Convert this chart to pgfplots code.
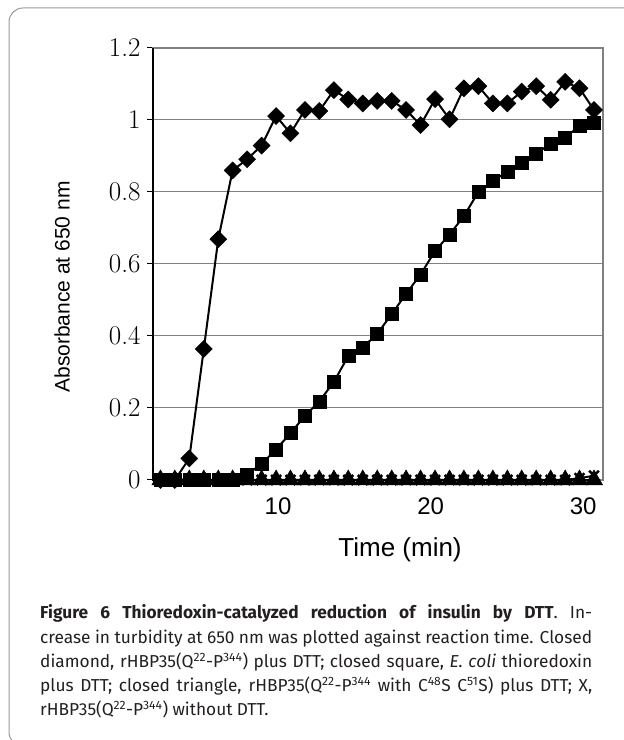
\documentclass[border=0pt]{standalone}
\usepackage{pgfplots}
\pgfplotsset{compat=1.18}
\usepackage{fontspec}
\newfontfamily\arial{Liberation Sans}
\newfontfamily\capfont{Fira Sans}
\definecolor{gridgray}{HTML}{808080}
\definecolor{framegray}{HTML}{999999}
\definecolor{captext}{HTML}{231F20}

\pgfplotstableread{
x      dia     sq     tri   xx
2.29   0       0      0     0
3.23   0       0      0     0
4.18   0.060   0      0     0
5.13   0.364   0      0     0
6.08   0.669   0      0     0
7.02   0.860   0      0     0
7.97   0.891   0.015  0     0
8.92   0.929   0.045  0     0
9.87   1.011   0.085  0     0
10.81  0.963   0.130  0     0
11.76  1.028   0.178  0     0
12.70  1.025   0.218  0     0
13.66  1.083   0.273  0     0
14.60  1.057   0.344  0     0
15.55  1.046   0.368  0     0
16.50  1.053   0.406  0     0
17.45  1.053   0.461  0     0
18.39  1.028   0.517  0     0
19.34  0.986   0.571  0     0
20.29  1.058   0.636  0     0
21.24  1.002   0.682  0     0
22.18  1.088   0.733  0     0
23.13  1.094   0.800  0     0
24.08  1.046   0.831  0     0
25.03  1.046   0.856  0     0
25.97  1.079   0.880  0     0
26.92  1.094   0.906  0     0
27.87  1.056   0.935  0     0
28.82  1.106   0.952  0     0
29.76  1.088   0.983  0     0.005
30.71  1.028   0.991  0     0.012
}\datatable

\newcommand\capline[1]{\hbox to 552pt{\spaceskip=0.25em plus 0.3em minus 0.1em #1}}

\begin{document}
\begin{tikzpicture}[x=1pt,y=1pt]
\useasboundingbox (0,0) rectangle (624,740);
\begin{scope}
\clip (0,0) rectangle (624,740);
\draw[framegray, line width=1pt, rounded corners=14pt] (9,-6) rectangle (680,732);
\end{scope}

\begin{axis}[
  at={(153pt,260pt)}, anchor=south west,
  scale only axis, width=450pt, height=432pt,
  xmin=1.80, xmax=31.30, ymin=0, ymax=1.2,
  clip=false,
  axis line style={draw=gridgray, line width=1.5pt},
  ytick={0,0.2,0.4,0.6,0.8,1,1.2},
  xtick={10,20,30},
  ymajorgrids, grid style={gridgray, line width=1pt},
  tick pos=left, tick align=outside,
  major tick length=6pt,
  ytick style={black, line width=1pt},
  xtick style={draw=none},
  /pgf/number format/assume math mode=true,
  yticklabel style={font=\fontsize{27}{27}\selectfont, xshift=-3pt},
  xticklabel style={font=\arial\fontsize{24}{24}\selectfont, yshift=-8pt},
  xlabel={Time (min)},
  ylabel={Absorbance at 650 nm},
  xlabel style={font=\arial\fontsize{26}{26}\selectfont, at={(rel axis cs:0.549,-0.162)}, anchor=center},
  ylabel style={font=\arial\fontsize{21}{21}\selectfont, at={(rel axis cs:-0.202,0.4468)}, anchor=center},
]
\addplot[black, line width=2pt, mark=square*, mark size=6.5pt, mark options={solid, fill=black, line width=0.5pt}] table[x=x, y=sq] {\datatable};
\addplot[black, line width=2pt, mark=triangle*, mark size=10pt, mark options={solid, fill=black, line width=0.5pt}] table[x=x, y=tri] {\datatable};
\addplot[black, line width=2pt, mark=x, mark size=7pt, mark options={solid, line width=2.5pt}] table[x=x, y=xx] {\datatable};
\addplot[black, line width=2pt, mark=square*, mark size=6pt, mark options={solid, fill=black, rotate=45, line width=0.5pt}] table[x=x, y=dia] {\datatable};
\draw[black, line width=1.5pt] (rel axis cs:0,0) -- (rel axis cs:0,1);
\end{axis}

\begin{scope}[captext, font=\capfont\fontsize{17.3}{20}\selectfont]
\node[anchor=base west, inner sep=0pt] at (40,121) {\capline{{\bfseries Figure 6 Thioredoxin-catalyzed reduction of insulin by DTT}. In-}};
\node[anchor=base west, inner sep=0pt] at (40,96.75) {\capline{crease in turbidity at 650 nm was plotted against reaction time. Closed}};
\node[anchor=base west, inner sep=0pt] at (40,72.5) {\capline{diamond, rHBP35(Q\textsuperscript{22}-P\textsuperscript{344}) plus DTT; closed square, \textit{E. coli} thioredoxin}};
\node[anchor=base west, inner sep=0pt] at (40,48.25) {\capline{plus DTT; closed triangle, rHBP35(Q\textsuperscript{22}-P\textsuperscript{344} with C\textsuperscript{48}S C\textsuperscript{51}S) plus DTT; X,}};
\node[anchor=base west, inner sep=0pt] at (40,24) {\spaceskip=0.25em rHBP35(Q\textsuperscript{22}-P\textsuperscript{344}) without DTT.};
\end{scope}
\end{tikzpicture}
\end{document}
